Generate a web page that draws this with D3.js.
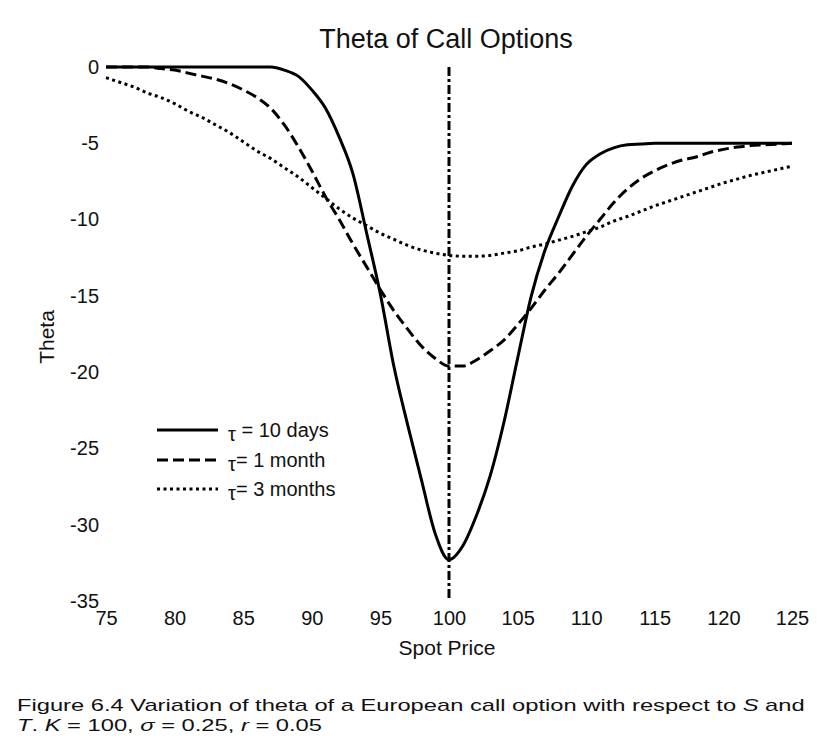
<!DOCTYPE html>
<html>
<head>
<meta charset="utf-8">
<script src="https://cdn.jsdelivr.net/npm/d3@7"></script>
<style>
  body { margin: 0; background: #fff; }
  text { font-family: 'Liberation Sans', Arial, sans-serif; fill: #111; }
</style>
</head>
<body>
<script>
const SPOT = d3.range(75, 126)

const THETA_10_DAYS = [
  0, 0, 0, 0, 0, 0, 0, 0, 0, 0, 0, 0, 0,
  -0.2, -0.6, -1.5, -2.7, -4.6, -7.0, -10.9, -14.9, -19.7, -23.5, -27.1, -30.6,
  -32.3,
  -31.4, -29.4, -26.8, -23.3, -19.1, -15.0, -12.0, -9.8, -7.8, -6.4, -5.7, -5.3,
  -5.1, -5.05, -5.0, -5.0, -5.0, -5.0, -5.0, -5.0, -5.0, -5.0, -5.0, -5.0, -5.0,
]

const THETA_1_MONTH = [
  0, 0, 0, 0, -0.1, -0.2, -0.4, -0.6, -0.8, -1.1, -1.5, -2.0, -2.7, -3.8, -5.2,
  -6.8, -8.5, -10.0, -11.6, -13.1, -14.6, -16.0, -17.2, -18.3, -19.1,
  -19.6,
  -19.6, -19.2, -18.6, -17.9, -16.9, -15.8, -14.6, -13.5, -12.3, -11.1, -10.0,
  -8.9, -8.0, -7.3, -6.8, -6.4, -6.1, -5.9, -5.6, -5.4, -5.25, -5.15, -5.1,
  -5.05, -5.0,
]

const THETA_3_MONTHS = [
  -0.7, -1.0, -1.3, -1.7, -2.0, -2.4, -2.9, -3.3, -3.8, -4.3, -4.9, -5.5, -6.0,
  -6.6, -7.2, -7.9, -8.6, -9.3, -9.9, -10.4, -10.9, -11.3, -11.7, -12.0, -12.2,
  -12.35,
  -12.4, -12.4, -12.35, -12.2, -12.05, -11.8, -11.6, -11.35, -11.1, -10.8,
  -10.5, -10.1, -9.8, -9.45, -9.1, -8.8, -8.5, -8.2, -7.9, -7.6, -7.35, -7.1,
  -6.9, -6.7, -6.5,
]

const X_TICKS = [75, 80, 85, 90, 95, 100, 105, 110, 115, 120, 125]
const Y_TICKS = [0, -5, -10, -15, -20, -25, -30, -35]
const STRIKE = 100

const SERIES = [
  { name: '10 days', sep: ' = ', values: THETA_10_DAYS, dash: null },
  { name: '1 month', sep: '= ', values: THETA_1_MONTH, dash: '11,5' },
  { name: '3 months', sep: '= ', values: THETA_3_MONTHS, dash: '3,3.5' },
]

const WIDTH = 829
const HEIGHT = 756
const FONT = "'Liberation Sans', Arial, sans-serif"

const svg = d3.select('body').append('svg')
  .attr('width', WIDTH)
  .attr('height', HEIGHT)

svg.append('rect')
  .attr('width', WIDTH)
  .attr('height', HEIGHT)
  .attr('fill', '#fff')

const x = d3.scaleLinear().domain([75, 125]).range([106, 792])
const y = d3.scaleLinear().domain([0, -35]).range([67, 601])

// titre
svg.append('text')
  .attr('x', 446)
  .attr('y', 48)
  .attr('text-anchor', 'middle')
  .style('font-size', '27px')
  .text('Theta of Call Options')

// axes sans ligne, seulement les libellés (tiret simple comme signe moins)
const yAxis = svg.append('g')
  .attr('transform', `translate(${x(75)},0)`)
  .call(d3.axisLeft(y).tickValues(Y_TICKS).tickSize(0).tickPadding(7)
    .tickFormat(d => String(d)))
yAxis.select('.domain').remove()
yAxis.selectAll('text')
  .style('font-size', '20px')
  .style('font-family', FONT)
  .attr('fill', '#111')

const xAxis = svg.append('g')
  .attr('transform', `translate(0,${y(-35)})`)
  .call(d3.axisBottom(x).tickValues(X_TICKS).tickSize(0).tickPadding(10)
    .tickFormat(d => String(d)))
xAxis.select('.domain').remove()
xAxis.selectAll('text')
  .style('font-size', '20px')
  .style('font-family', FONT)
  .attr('fill', '#111')

svg.append('text')
  .attr('x', 447)
  .attr('y', 655)
  .attr('text-anchor', 'middle')
  .style('font-size', '21px')
  .text('Spot Price')

svg.append('text')
  .attr('transform', 'translate(54,337) rotate(-90)')
  .attr('text-anchor', 'middle')
  .style('font-size', '21px')
  .text('Theta')

// ligne verticale du strike
svg.append('line')
  .attr('x1', x(STRIKE))
  .attr('x2', x(STRIKE))
  .attr('y1', y(0))
  .attr('y2', y(-35))
  .attr('stroke', '#000')
  .attr('stroke-width', 3)
  .attr('stroke-dasharray', '9,3,3,3')

// les courbes
const line = d3.line()
  .x((d, i) => x(SPOT[i]))
  .y(d => y(d))
  .curve(d3.curveMonotoneX)

svg.selectAll('path.curve')
  .data(SERIES)
  .enter()
  .append('path')
  .attr('class', 'curve')
  .attr('d', d => line(d.values))
  .attr('fill', 'none')
  .attr('stroke', '#000')
  .attr('stroke-width', 3)
  .attr('stroke-dasharray', d => d.dash)

// la légende
const LEGEND_Y = [430, 460, 489]
const legend = svg.append('g')

legend.selectAll('line')
  .data(SERIES)
  .enter()
  .append('line')
  .attr('x1', 157)
  .attr('x2', 218)
  .attr('y1', (d, i) => LEGEND_Y[i])
  .attr('y2', (d, i) => LEGEND_Y[i])
  .attr('stroke', '#000')
  .attr('stroke-width', 3)
  .attr('stroke-dasharray', d => d.dash)

const legendText = legend.selectAll('text')
  .data(SERIES)
  .enter()
  .append('text')
  .attr('x', 228)
  .attr('y', (d, i) => LEGEND_Y[i] + 7)
  .style('font-size', '20px')

legendText.append('tspan')
  .attr('dy', 4)
  .text('τ')
legendText.append('tspan')
  .attr('dy', -4)
  .text(d => d.sep + d.name)

// légende de la figure
const caption = svg.append('g')
const line1 = caption.append('text')
  .attr('x', 0)
  .attr('y', 0)
  .style('font-size', '17px')
line1.append('tspan').text('Figure 6.4 Variation of theta of a European call option with respect to ')
line1.append('tspan').style('font-style', 'italic').text('S')
line1.append('tspan').text(' and')

const line2 = caption.append('text')
  .attr('x', 0)
  .attr('y', 20)
  .style('font-size', '17px')
line2.append('tspan').style('font-style', 'italic').text('T')
line2.append('tspan').text('. ')
line2.append('tspan').style('font-style', 'italic').text('K')
line2.append('tspan').text(' = 100, ')
line2.append('tspan').style('font-style', 'italic').text('σ')
line2.append('tspan').text(' = 0.25, ')
line2.append('tspan').style('font-style', 'italic').text('r')
line2.append('tspan').text(' = 0.05')

const w1 = line1.node().getComputedTextLength()
const sx = 788 / w1
caption.attr('transform', `translate(17,711) scale(${sx},1)`)
</script>
</body>
</html>
